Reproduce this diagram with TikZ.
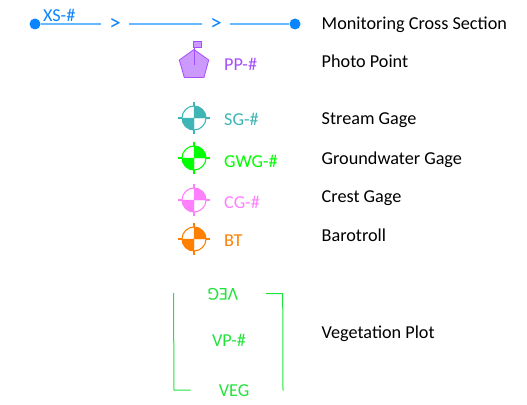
\documentclass[tikz,border=0pt]{standalone}
\usepackage{fontspec}
\setmainfont{Carlito}
\definecolor{xsdot}{HTML}{0A84FF}
\definecolor{xsline}{HTML}{66B8FF}
\definecolor{pp}{HTML}{A64DFF}
\definecolor{ppfill}{HTML}{CC99FF}
\definecolor{sg}{HTML}{40B5B5}
\definecolor{gwg}{HTML}{00FF00}
\definecolor{vegc}{HTML}{22E33C}
\definecolor{cg}{HTML}{FF80FF}
\definecolor{bt}{HTML}{FF8000}
\tikzset{
  lab/.style={anchor=west,inner sep=0pt,font=\fontsize{18.2}{20}\selectfont,text=black},
  sym/.style={anchor=west,inner sep=0pt,font=\fontsize{18.2}{20}\selectfont},
  endpt/.style={circle,fill=xsdot,inner sep=0pt,minimum size=11pt},
  chev/.style={inner sep=0pt,text=xsdot,font=\fontsize{23}{24}\selectfont,minimum width=28pt},
  xsl/.style={draw=xsline,line width=1.4pt},
  vegl/.style={draw=vegc,line width=1pt},
  gage/.pic={
    \fill[pic actions] (0,0) -- (-12,0) arc (180:90:12) -- cycle;
    \fill[pic actions] (0,0) -- (12,0) arc (0:-90:12) -- cycle;
    \draw[pic actions,fill=none,line width=1.1pt] (0,0) circle (12);
    \draw[pic actions,fill=none,line width=1.1pt] (-16,0) -- (-12,0) (12,0) -- (16,0) (0,-16) -- (0,-12) (0,12) -- (0,16);
  }
}
\begin{document}
\begin{tikzpicture}[x=1pt,y=-1pt]
\useasboundingbox (0,0) rectangle (527,404);
% cross-section
\node[endpt] (xa) at (35,24) {};
\node[endpt] (xb) at (295,24) {};
\node[chev] (c1) at (115,24) {>};
\node[chev] (c2) at (216,24) {>};
\draw[xsl] (xa) -- (c1);
\draw[xsl] (c1) -- (c2);
\draw[xsl] (c2) -- (xb);
\node[sym,text=xsdot] (xsl) at (43,15.5) {XS-\#};
% photo point
\draw[pp,fill=ppfill,line width=.8pt] (194,49.5) -- (208.7,60) -- (204,77.5) -- (184.3,77.5) -- (179.3,60) -- cycle;
\draw[pp,line width=1pt] (194,47) -- (194,65);
\draw[pp,fill=ppfill,line width=.9pt] (193.5,41.5) rectangle (201.5,47);
\node[sym,text=pp] (ppl) at (224,64) {PP-\#};
% gages
\pic[color=sg,fill=sg,draw=sg] (g1) at (194,118) {gage};
\node[sym,text=sg] (sgl) at (224,119.5) {SG-\#};
\pic[color=gwg,fill=gwg,draw=gwg] (g2) at (194,158) {gage};
\node[sym,text=gwg] (gwl) at (224,161) {GWG-\#};
\pic[color=cg,fill=cg,draw=cg] (g3) at (194,200) {gage};
\node[sym,text=cg] (cgl) at (224,202.5) {CG-\#};
\pic[color=bt,fill=bt,draw=bt] (g4) at (194,239) {gage};
\node[sym,text=bt] (btl) at (224,241) {BT};
% vegetation plot
\draw[vegl] (173.5,293) -- (174,390) -- (190.5,390);
\draw[vegl] (266,293.5) -- (282.7,293.5) -- (283,390.5);
\node[sym,anchor=center,text=vegc,rotate=180] (v1) at (223,294) {VEG};
\node[sym,anchor=center,text=vegc] (v2) at (234,391) {VEG};
\node[sym,anchor=center,text=vegc] (v3) at (229,340) {VP-\#};
% legend labels
\node[lab] (t1) at (321.5,24.5) {Monitoring Cross Section};
\node[lab] (t2) at (321.5,61.5) {Photo Point};
\node[lab] (t3) at (321.5,120) {Stream Gage};
\node[lab] (t4) at (321.5,160) {Groundwater Gage};
\node[lab] (t5) at (321.5,198.5) {Crest Gage};
\node[lab] (t6) at (321.5,235.5) {Barotroll};
\node[lab] (t7) at (321.5,333.5) {Vegetation Plot};
\end{tikzpicture}
\end{document}
